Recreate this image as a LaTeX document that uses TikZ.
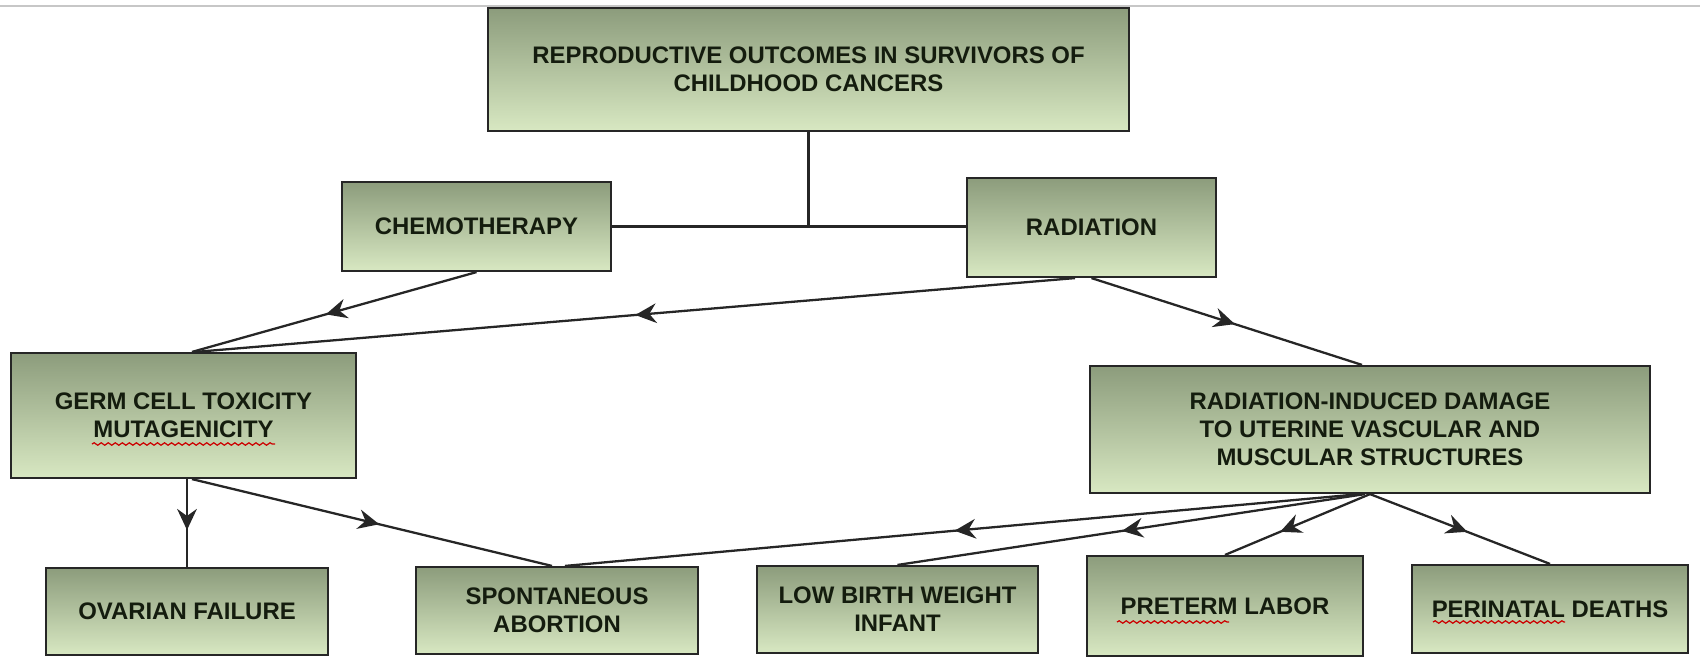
\documentclass[tikz,border=0pt]{standalone}
\usepackage{fontspec}
\setmainfont{Liberation Sans}
\usetikzlibrary{arrows.meta,decorations.markings,decorations.pathmorphing}

\definecolor{boxtop}{RGB}{140,156,124}
\definecolor{boxbot}{RGB}{216,232,194}
\definecolor{boxtext}{RGB}{20,28,14}

\tikzset{
  outbox/.style={draw=black!85, line width=0.6pt, top color=boxtop, bottom color=boxbot,
    text=boxtext, font=\fontsize{6.8}{7.9}\selectfont\bfseries, align=center, inner sep=0pt},
  link/.style={line width=0.65pt, black!85},
  midarrow/.style={postaction={decorate}, decoration={markings,
    mark=at position #1 with {\arrow{Stealth[length=6pt,width=5.6pt,inset=2pt]}}}},
  spell/.style={red!80!black, line width=0.35pt, decorate,
    decoration={snake, amplitude=0.35pt, segment length=2pt}}
}

\begin{document}
\begin{tikzpicture}[x=0.01cm, y=-0.01cm]
    \useasboundingbox (0,0) rectangle (1700,657);
    \draw[black!22, line width=0.5pt] (0,6) -- (1700,6);

    % Top
    \node[outbox, minimum width=6.41cm, minimum height=1.23cm] (outcomes) at (808.5,69.5)
      {REPRODUCTIVE OUTCOMES IN SURVIVORS OF\\CHILDHOOD CANCERS};

    % Treatments
    \node[outbox, minimum width=2.69cm, minimum height=0.89cm] (chemo) at (476.5,226.5) {CHEMOTHERAPY};
    \node[outbox, minimum width=2.49cm, minimum height=0.99cm] (rad) at (1091.5,227.5) {RADIATION};

    % Damage
    \node[outbox, minimum width=3.45cm, minimum height=1.25cm] (germ) at (183.5,415.5)
      {GERM CELL TOXICITY\\MUTAGENICITY};
    \node[outbox, minimum width=5.60cm, minimum height=1.27cm] (damage) at (1370,429.5)
      {RADIATION-INDUCED DAMAGE\\TO UTERINE VASCULAR AND\\MUSCULAR STRUCTURES};

    % Outcomes
    \node[outbox, minimum width=2.82cm, minimum height=0.87cm] (ovarian) at (187,611.5) {OVARIAN FAILURE};
    \node[outbox, minimum width=2.82cm, minimum height=0.87cm] (abortion) at (557,610.5) {SPONTANEOUS\\ABORTION};
    \node[outbox, minimum width=2.81cm, minimum height=0.87cm] (lbw) at (897.5,609.5) {LOW BIRTH WEIGHT\\INFANT};
    \node[outbox, minimum width=2.76cm, minimum height=1.00cm] (preterm) at (1225,606) {PRETERM LABOR};
    \node[outbox, minimum width=2.76cm, minimum height=0.88cm] (perinatal) at (1550,609) {PERINATAL DEATHS};

    % Tree from the top box
    \draw[link, line width=0.8pt] (outcomes.south) -- (outcomes.south |- chemo.east);
    \draw[link, line width=0.8pt] (chemo.east) -- (chemo.east -| rad.west);

    % Treatments to damage
    \draw[link, midarrow=0.53] (chemo.south) -- ([xshift=0.085cm]germ.north);
    \draw[link, midarrow=0.5] ([xshift=-0.165cm]rad.south) -- ([xshift=0.12cm]germ.north);
    \draw[link, midarrow=0.53] (rad.south) -- ([xshift=-0.08cm]damage.north);

    % Damage to outcomes
    \draw[link, midarrow=0.58] (ovarian.north |- germ.south) -- (ovarian.north);
    \draw[link, midarrow=0.52] ([xshift=0.085cm]germ.south) -- ([xshift=-0.05cm]abortion.north);
    \draw[link, midarrow=0.51] ([xshift=-0.1cm]damage.south) -- ([xshift=0.08cm]abortion.north);
    \draw[link, midarrow=0.52] ([xshift=-0.05cm]damage.south) -- (lbw.north);
    \draw[link, midarrow=0.62] (damage.south) -- (preterm.north);
    \draw[link, midarrow=0.54] (damage.south) -- (perinatal.north);

    % Spelling marks
    \draw[spell] (92,444) -- (275,444);
    \draw[spell] (1117,622) -- (1229,622);
    \draw[spell] (1433,622) -- (1565,622);
\end{tikzpicture}
\end{document}
